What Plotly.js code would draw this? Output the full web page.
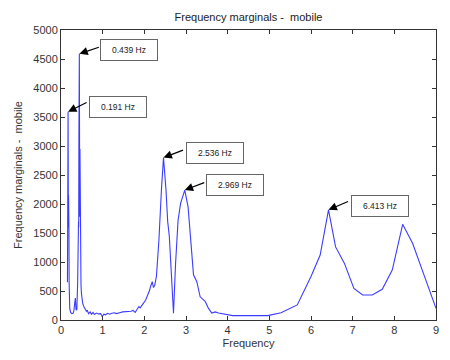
<!DOCTYPE html>
<html>
<head>
<meta charset="utf-8">
<script src="https://cdn.plot.ly/plotly-3.0.1.min.js"></script>
<style>html,body{margin:0;padding:0;background:#fff;}#chart{width:450px;height:360px;}</style>
</head>
<body>
<div id="chart"></div>
<script>
// Frequency axis (Hz)
const freq = [0.155,0.160,0.165,0.170,0.175,0.178,0.181,0.184,0.187,0.190,0.195,0.200,0.210,0.230,0.260,0.290,0.310,0.330,0.345,0.360,0.380,0.400,0.410,0.420,0.425,0.430,0.435,0.440,0.445,0.450,0.455,0.460,0.465,0.470,0.480,0.490,0.500,0.520,0.550,0.580,0.610,0.630,0.660,0.700,0.730,0.770,0.800,0.850,0.900,0.950,0.990,1.030,1.070,1.120,1.170,1.220,1.280,1.330,1.380,1.430,1.480,1.530,1.580,1.630,1.680,1.730,1.780,1.830,1.870,1.900,1.940,1.980,2.030,2.080,2.120,2.160,2.190,2.220,2.250,2.290,2.350,2.410,2.460,2.520,2.560,2.600,2.660,2.700,2.750,2.810,2.870,2.970,3.050,3.120,3.180,3.260,3.340,3.460,3.540,3.620,3.700,3.780,3.900,4.020,4.120,4.500,4.960,5.280,5.670,6.000,6.220,6.420,6.590,6.800,7.030,7.240,7.470,7.710,7.950,8.200,8.440,8.720,9.000];
// Frequency marginal values
const marginal = [650,1500,2600,3590,2150,1600,2150,1600,2100,1600,650,380,200,130,110,115,160,300,380,180,170,650,1150,1700,1600,3150,1800,4590,3150,1780,2950,1750,1600,1150,600,460,380,290,230,200,150,170,110,140,100,130,95,120,105,110,60,100,90,115,100,115,125,110,125,130,140,140,150,150,150,165,130,190,230,210,260,290,340,420,500,600,660,560,600,750,1380,2240,2800,2240,1700,1440,630,115,980,1720,2010,2240,1950,1380,780,660,400,320,200,120,140,120,100,85,75,75,75,126,260,750,1120,1900,1260,980,546,431,431,530,860,1650,1320,760,200];
// Peak labels
const peakFreq = [0.170, 0.440, 2.460, 2.970, 6.420];
const peakVal = [3590, 4590, 2800, 2240, 1900];
const peakText = ['0.191 Hz', '0.439 Hz', '2.536 Hz', '2.969 Hz', '6.413 Hz'];

const xTicks = [0,1,2,3,4,5,6,7,8,9];
const yTicks = [0,500,1000,1500,2000,2500,3000,3500,4000,4500,5000];

const trace = {
  x: freq, y: marginal, type: 'scatter', mode: 'lines',
  line: {color: 'rgb(60,60,255)', width: 1.1},
  hoverinfo: 'skip'
};

const boxShift = [[50,5],[50,4],[51,5],[50,5],[51,4]];
const arrowOff = [[20,-10],[21,-7],[21,-8],[21,-8],[21,-9]];
const annotations = [];
peakFreq.forEach((f, i) => {
  annotations.push({
    x: f, y: peakVal[i], xref: 'x', yref: 'y', text: '',
    showarrow: true, ax: arrowOff[i][0], ay: arrowOff[i][1],
    arrowhead: 2, arrowsize: 1.4, arrowwidth: 1.2, arrowcolor: '#000'
  });
  annotations.push({
    x: f, y: peakVal[i], xref: 'x', yref: 'y', text: peakText[i],
    showarrow: false, xshift: boxShift[i][0], yshift: boxShift[i][1],
    xanchor: 'center', yanchor: 'middle', width: 56, height: 20,
    bgcolor: '#fff', bordercolor: '#666', borderwidth: 1, borderpad: 0,
    font: {family: 'Liberation Sans, Arial, sans-serif', size: 8.5, color: '#222'}
  });
});

const axisFont = {family: 'Liberation Sans, Arial, sans-serif', size: 11, color: '#333'};
const layout = {
  width: 450, height: 360,
  margin: {l: 60.5, r: 14, t: 30, b: 40},
  paper_bgcolor: '#fff', plot_bgcolor: '#fff',
  showlegend: false,
  title: {text: 'Frequency marginals -  mobile', x: 0.5, xref: 'paper', y: 1 - 17/360, yref: 'container', yanchor: 'middle',
          font: {family: 'Liberation Sans, Arial, sans-serif', size: 11, color: '#222'}},
  xaxis: {
    range: [0, 9], tickvals: xTicks, ticks: 'inside', ticklen: 4, tickcolor: '#333',
    showline: true, linecolor: '#333', linewidth: 1, mirror: 'ticks', showgrid: false, zeroline: false,
    tickfont: axisFont,
    title: {text: 'Frequency', font: axisFont, standoff: 4}
  },
  yaxis: {
    range: [0, 5000], tickvals: yTicks, ticks: 'inside', ticklen: 4, tickcolor: '#333',
    showline: true, linecolor: '#333', linewidth: 1, mirror: 'ticks', showgrid: false, zeroline: false,
    tickfont: axisFont,
    title: {text: 'Frequency marginals -  mobile', font: axisFont, standoff: 8}
  },
  annotations: annotations
};

Plotly.newPlot('chart', [trace], layout, {displayModeBar: false, staticPlot: true});
</script>
</body>
</html>
